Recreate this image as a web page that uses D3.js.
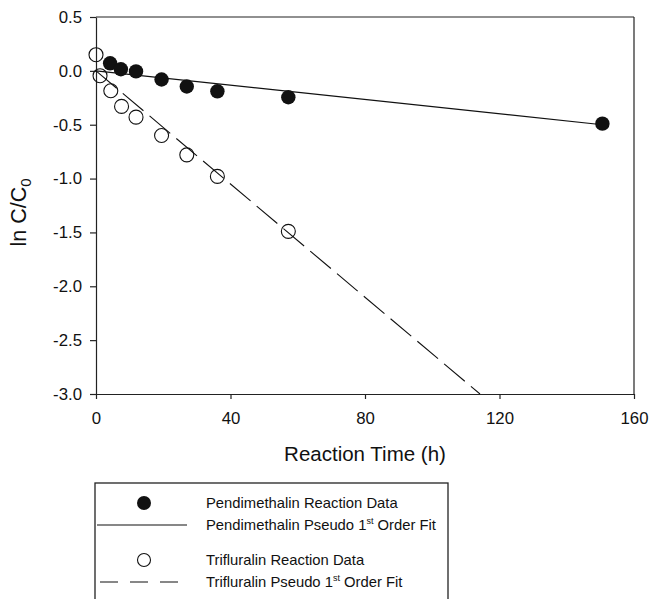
<!DOCTYPE html>
<html>
<head>
<meta charset="utf-8">
<script src="https://cdn.jsdelivr.net/npm/d3@7/dist/d3.min.js"></script>
<style>
  html, body { margin: 0; padding: 0; background: #fff; }
  svg { display: block; font-family: Arial, "Liberation Sans", Helvetica, sans-serif; }
</style>
</head>
<body>
<svg id="chart" width="651" height="599"></svg>
<script>
// Reaction times (h) and ln(C/C0) measurements
const pendTime  = [4.2, 7.4, 11.9, 19.5, 27.0, 36.1, 57.2, 150.6];
const pendLnC   = [0.07, 0.015, -0.005, -0.08, -0.145, -0.19, -0.245, -0.49];
const trifTime  = [0, 1.2, 4.4, 7.6, 11.9, 19.5, 27.0, 36.1, 57.2];
const trifLnC   = [0.15, -0.045, -0.185, -0.33, -0.43, -0.60, -0.78, -0.98, -1.49];

// Pseudo first-order fit lines (end points)
const pendFitTime = [0, 150.6];
const pendFitLnC  = [0.0, -0.50];
const trifFitTime = [0, 114.2];
const trifFitLnC  = [0.0, -3.0];

// Axis ticks
const xTicks = [0, 40, 80, 120, 160];
const xTickLabels = ["0", "40", "80", "120", "160"];
const yTicks = [0.5, 0.0, -0.5, -1.0, -1.5, -2.0, -2.5, -3.0];
const yTickLabels = ["0.5", "0.0", "-0.5", "-1.0", "-1.5", "-2.0", "-2.5", "-3.0"];

// Legend entries
const legendLabels = [
  "Pendimethalin Reaction Data",
  "Pendimethalin Pseudo 1",
  "Trifluralin Reaction Data",
  "Trifluralin Pseudo 1"
];

const svg = d3.select("#chart");
const plot = { left: 96, right: 634, top: 17, bottom: 394 };
const axisColor = "#222";

const x = d3.scaleLinear().domain([0, 160]).range([plot.left, plot.right]);
const y = d3.scaleLinear().domain([-3.0, 0.5]).range([plot.bottom, plot.top]);

svg.append("defs").append("clipPath").attr("id", "plotClip")
  .append("rect")
  .attr("x", plot.left).attr("y", plot.top)
  .attr("width", plot.right - plot.left).attr("height", plot.bottom - plot.top);

// Axes
const xAxis = d3.axisBottom(x).tickValues(xTicks)
  .tickFormat((d, i) => xTickLabels[i]).tickSizeInner(5).tickSizeOuter(0).tickPadding(13);
const yAxis = d3.axisLeft(y).tickValues(yTicks)
  .tickFormat((d, i) => yTickLabels[i]).tickSizeInner(6).tickSizeOuter(0).tickPadding(8);

const gx = svg.append("g").attr("transform", `translate(0,${plot.bottom})`).call(xAxis);
const gy = svg.append("g").attr("transform", `translate(${plot.left},0)`).call(yAxis);
[gx, gy].forEach(g => {
  g.selectAll("path, line").attr("stroke", axisColor).attr("stroke-width", 1.2);
  g.selectAll("text").attr("fill", "#111").style("font-size", "16.8px")
    .style("font-family", "Arial, 'Liberation Sans', sans-serif");
});

// Frame: top and right edges
svg.append("line").attr("x1", plot.left).attr("x2", plot.right)
  .attr("y1", plot.top).attr("y2", plot.top)
  .attr("stroke", axisColor).attr("stroke-width", 1.2);
svg.append("line").attr("x1", plot.right).attr("x2", plot.right)
  .attr("y1", plot.top).attr("y2", plot.bottom)
  .attr("stroke", axisColor).attr("stroke-width", 1.2);

// Axis titles
svg.append("text")
  .attr("x", (plot.left + plot.right) / 2).attr("y", 461)
  .attr("text-anchor", "middle").style("font-size", "20.5px").attr("fill", "#111")
  .text("Reaction Time (h)");

const yTitle = svg.append("text")
  .attr("transform", `translate(26,${(plot.top + plot.bottom) / 2 + 7}) rotate(-90)`)
  .attr("text-anchor", "middle").style("font-size", "21.5px").attr("fill", "#111");
yTitle.append("tspan").text("ln C/C");
yTitle.append("tspan").attr("dy", 5).style("font-size", "15px").text("0");

// Fit lines
const line = d3.line().x(d => x(d[0])).y(d => y(d[1]));
const fits = svg.append("g").attr("clip-path", "url(#plotClip)");
fits.append("path")
  .attr("d", line(d3.zip(pendFitTime, pendFitLnC)))
  .attr("fill", "none").attr("stroke", "#111").attr("stroke-width", 1.1);
fits.append("path")
  .attr("d", line(d3.zip(trifFitTime, trifFitLnC)))
  .attr("fill", "none").attr("stroke", "#111").attr("stroke-width", 1.1)
  .attr("stroke-dasharray", "27,8");

// Data points
svg.append("g").selectAll("circle")
  .data(d3.zip(pendTime, pendLnC))
  .join("circle")
  .attr("cx", d => x(d[0])).attr("cy", d => y(d[1])).attr("r", 7.2)
  .attr("fill", "#111");

svg.append("g").selectAll("circle")
  .data(d3.zip(trifTime, trifLnC))
  .join("circle")
  .attr("cx", d => x(d[0])).attr("cy", d => y(d[1])).attr("r", 7)
  .attr("fill", "none").attr("stroke", "#111").attr("stroke-width", 1.1);

// Legend
const lg = svg.append("g");
lg.append("rect").attr("x", 95).attr("y", 483).attr("width", 353).attr("height", 130)
  .attr("fill", "none").attr("stroke", axisColor).attr("stroke-width", 1.3);

lg.append("circle").attr("cx", 144).attr("cy", 503).attr("r", 7).attr("fill", "#111");
lg.append("line").attr("x1", 97).attr("x2", 187).attr("y1", 525).attr("y2", 525)
  .attr("stroke", "#111").attr("stroke-width", 1.1);
lg.append("circle").attr("cx", 144).attr("cy", 560).attr("r", 6.5)
  .attr("fill", "none").attr("stroke", "#111").attr("stroke-width", 1.1);
lg.append("line").attr("x1", 100).attr("x2", 178).attr("y1", 582).attr("y2", 582)
  .attr("stroke", "#111").attr("stroke-width", 1.1).attr("stroke-dasharray", "18,12");

const textY = [508, 530, 565, 587];
legendLabels.forEach((lab, i) => {
  const t = lg.append("text").attr("x", 206).attr("y", textY[i])
    .style("font-size", "14.8px").attr("fill", "#111");
  t.append("tspan").text(lab);
  if (i === 1 || i === 3) {
    t.append("tspan").attr("dy", -6).style("font-size", "9px").text("st");
    t.append("tspan").attr("dy", 6).text(" Order Fit");
  }
});
</script>
</body>
</html>
